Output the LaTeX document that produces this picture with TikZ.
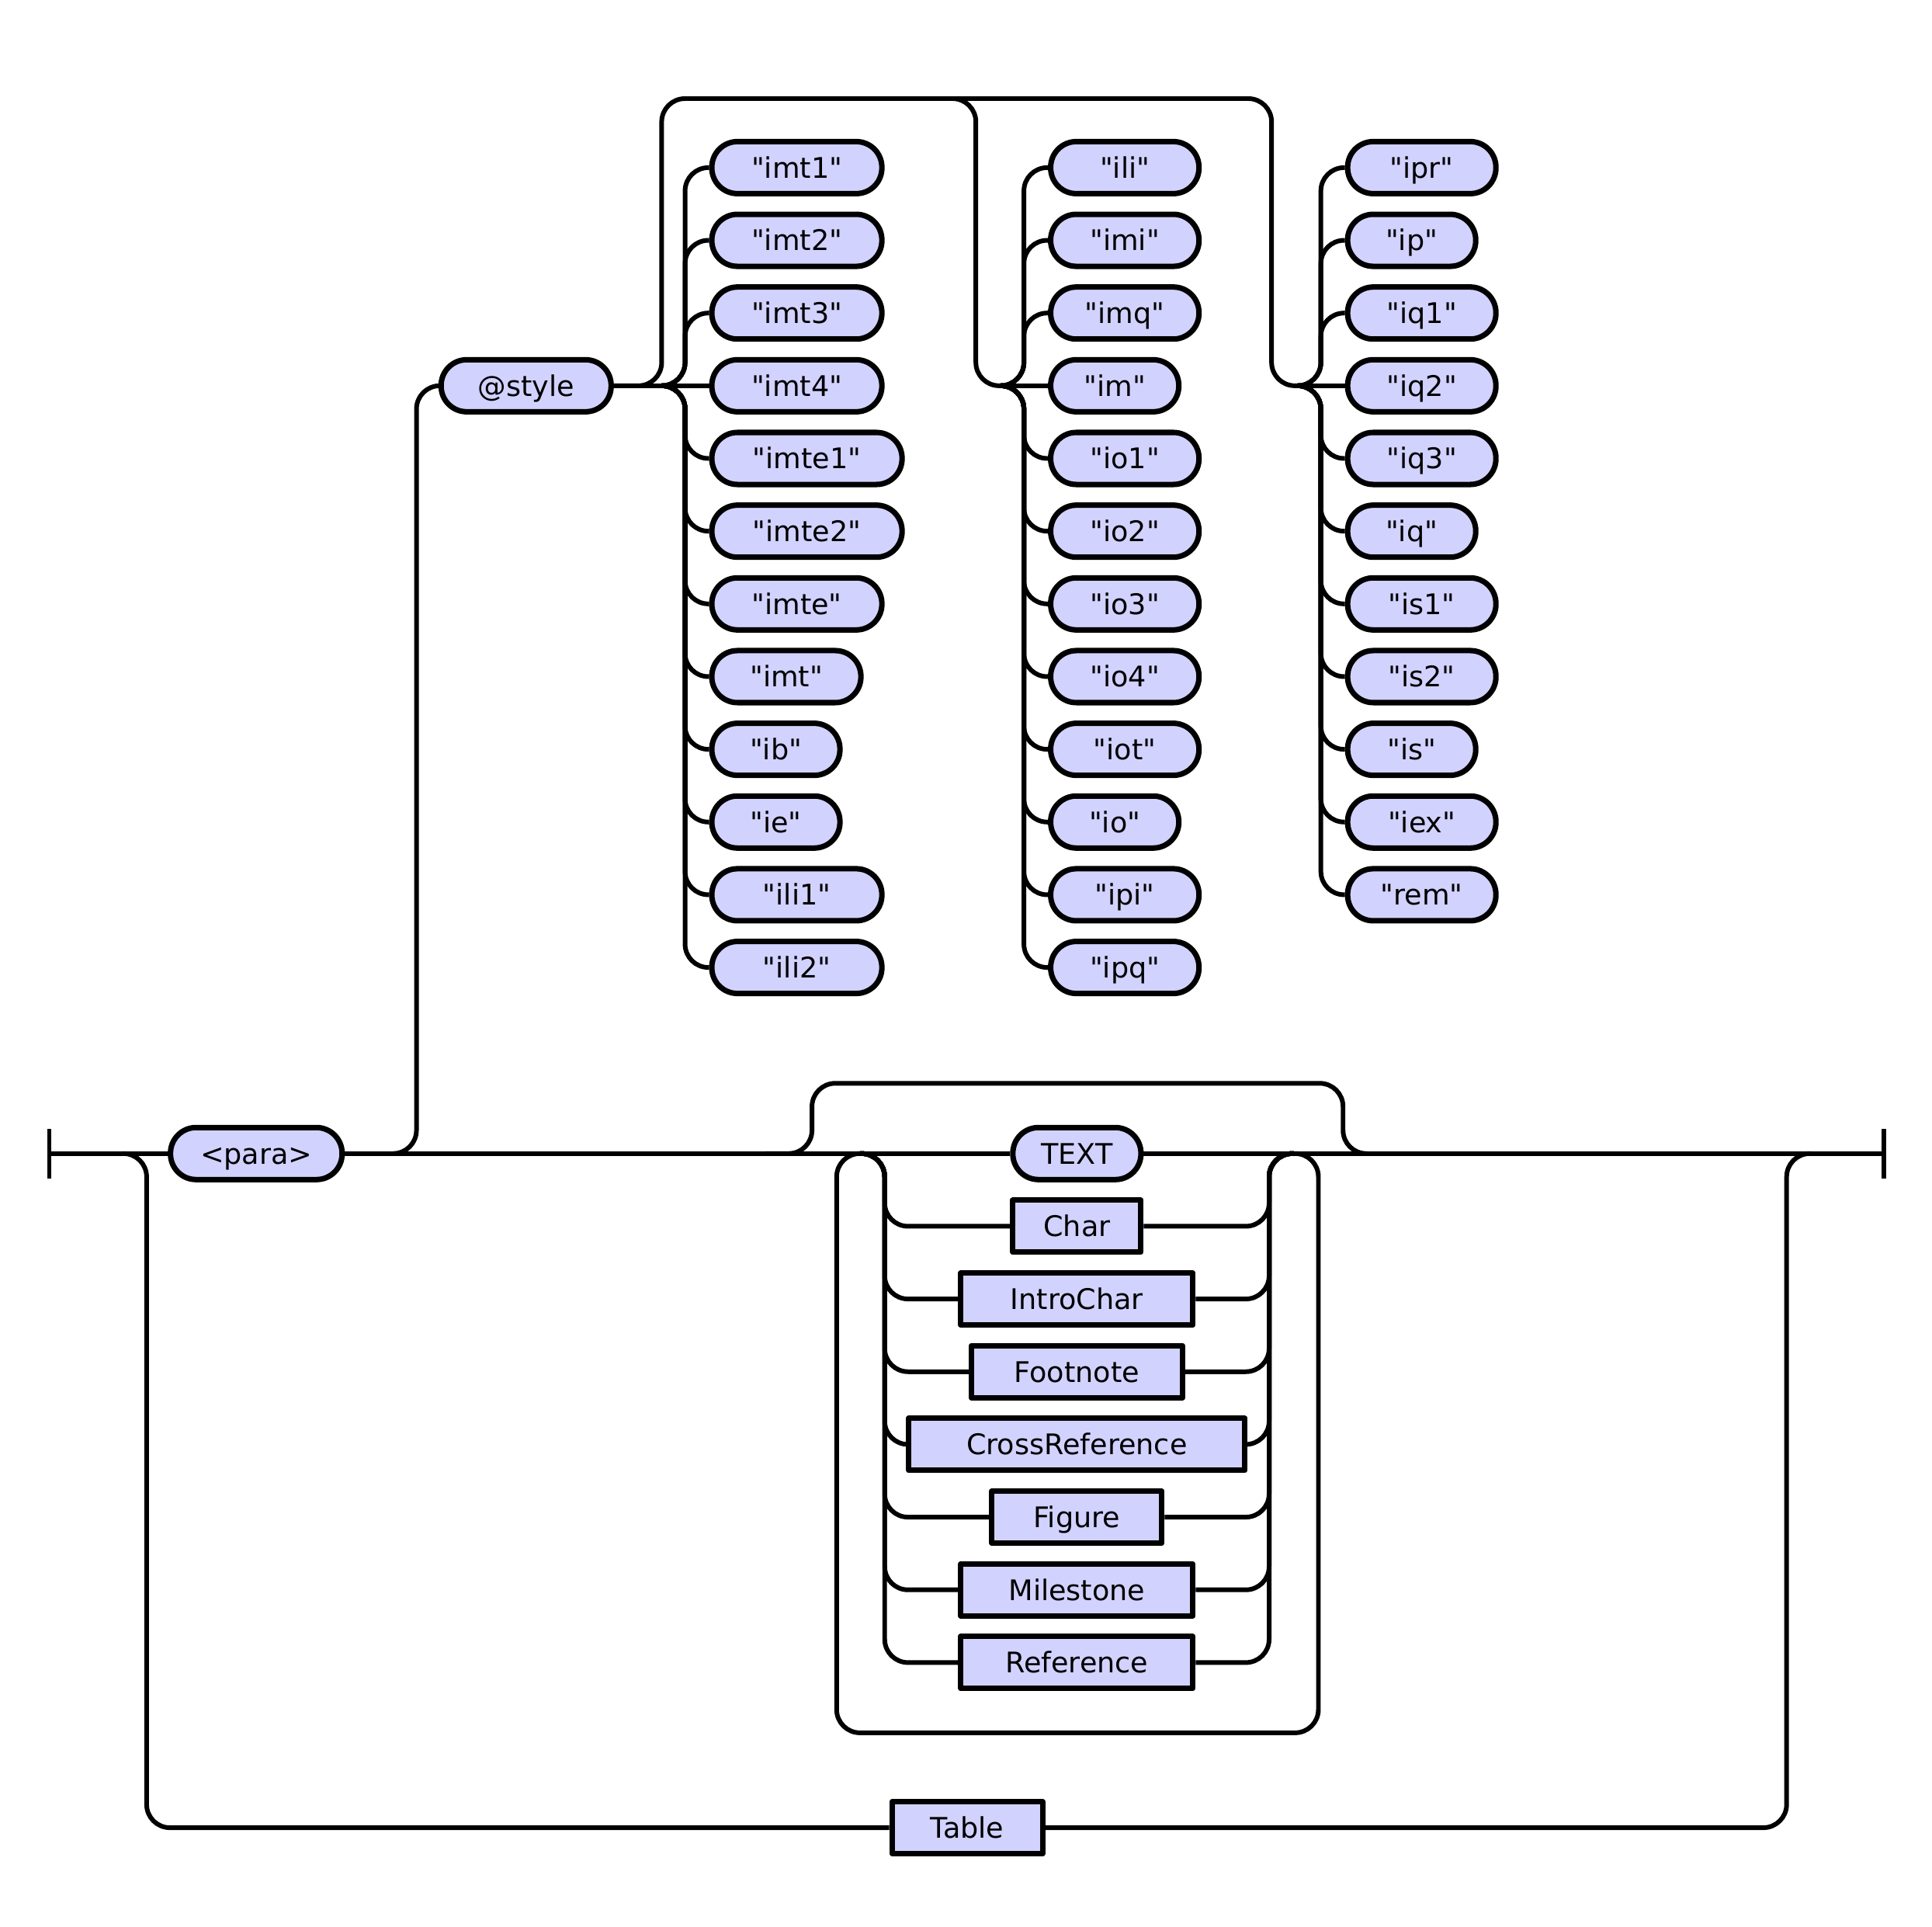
\documentclass[tikz,border=0pt]{standalone}
\usepackage{fontspec}
\setmainfont{DejaVu Sans}[Ligatures=TeXOff]
\definecolor{nodefill}{RGB}{210,210,255}
\begin{document}
\begin{tikzpicture}[x=0.015874cm,y=-0.015874cm,
  line width=1.7pt, line join=round,
  rr/.style={rounded corners=0.3cm},
  lbl/.style={font=\fontsize{10.4}{12}\selectfont, text height=10.1pt, text depth=2.5pt},
  term/.style={lbl, draw, line width=2pt, fill=nodefill, rounded corners=0.33cm, minimum height=0.67cm, inner sep=0pt},
  nonterm/.style={lbl, draw, line width=2pt, fill=nodefill, minimum height=0.67cm, inner sep=0pt}]
\useasboundingbox (0,0) rectangle (1568,1563);

% main line nodes
\node[term, minimum width=2.21cm] (para) at (208,936) {<para>};
\node[term, minimum width=2.19cm] (style) at (427,313) {@style};
\node[term, minimum width=1.65cm] (text) at (874,936) {TEXT};
\node[nonterm, minimum width=1.65cm] (char) at (874,995) {Char};
\node[nonterm, minimum width=2.99cm] (intro) at (874,1054) {IntroChar};
\node[nonterm, minimum width=2.72cm] (foot) at (874,1113) {Footnote};
\node[nonterm, minimum width=4.33cm] (cross) at (874,1172) {CrossReference};
\node[nonterm, minimum width=2.19cm] (fig) at (874,1231) {Figure};
\node[nonterm, minimum width=2.99cm] (mile) at (874,1290) {Milestone};
\node[nonterm, minimum width=2.99cm] (ref) at (874,1349) {Reference};
\node[nonterm, minimum width=1.94cm] (table) at (785,1483) {Table};

% column 1
\foreach \nm/\lab/\yy/\ww in {c1a/imt1/136/2.19cm, c1b/imt2/195/2.19cm, c1c/imt3/254/2.19cm,
  c1d/imt4/313/2.19cm, c1e/imte1/372/2.45cm, c1f/imte2/431/2.45cm, c1g/imte/490/2.19cm,
  c1h/imt/549/1.92cm, c1i/ib/608/1.65cm, c1j/ie/667/1.65cm, c1k/ili1/726/2.19cm, c1l/ili2/785/2.19cm}
  {\node[term, minimum width=\ww, anchor=west] (\nm) at (575.5,\yy) {"\lab"};}
% column 2
\foreach \nm/\lab/\yy/\ww in {c2a/ili/136/1.91cm, c2b/imi/195/1.91cm, c2c/imq/254/1.91cm,
  c2d/im/313/1.65cm, c2e/io1/372/1.91cm, c2f/io2/431/1.91cm, c2g/io3/490/1.91cm,
  c2h/io4/549/1.91cm, c2i/iot/608/1.91cm, c2j/io/667/1.65cm, c2k/ipi/726/1.91cm, c2l/ipq/785/1.91cm}
  {\node[term, minimum width=\ww, anchor=west] (\nm) at (850.5,\yy) {"\lab"};}
% column 3
\foreach \nm/\lab/\yy/\ww in {c3a/ipr/136/1.91cm, c3b/ip/195/1.65cm, c3c/iq1/254/1.91cm,
  c3d/iq2/313/1.91cm, c3e/iq3/372/1.91cm, c3f/iq/431/1.65cm, c3g/is1/490/1.91cm,
  c3h/is2/549/1.91cm, c3i/is/608/1.65cm, c3j/iex/667/1.91cm, c3k/rem/726/1.91cm}
  {\node[term, minimum width=\ww, anchor=west] (\nm) at (1091.5,\yy) {"\lab"};}

% junction coordinates
\coordinate (LB) at (40,936);
\coordinate (RB) at (1529,936);
\coordinate (TJ) at (100,936);
\coordinate (TR) at (1470,936);
\coordinate (PJ) at (319,936);
\coordinate (J1) at (537,313);
\coordinate (V1) at (556,313);
\coordinate (J2) at (812,313);
\coordinate (V2) at (831,313);
\coordinate (J3) at (1053,313);
\coordinate (V3) at (1072,313);
\coordinate (R2) at (760,80);
\coordinate (BL) at (621,936);
\coordinate (BR) at (1110,936);
\coordinate (LJ1) at (698,936);
\coordinate (LJ2) at (1050,936);

% start / end bars
\draw (40,916) -- (40,956);
\draw (1529,916) -- (1529,956);

% main line
\draw (LB) -- (para.west);
\draw (para.east) -- (text.west);
\draw (text.east) -- (RB);

% Table bypass
\draw[rr] (TJ) -- (119,936) -- (119,1483) -- (table.west);
\draw[rr] (table.east) -- (1450,1483) -- (1450,936) -- (TR);

% @style branch
\draw[rr] (PJ) -- (338,936) -- (338,313) -- (style.west);
\draw (style.east) -- (c1d.west);
\draw[rr] (style.east) -- (537,313) -- (537,80) -- (1032,80) -- (1032,313) -- (J3);
\draw[rr] (R2) -- (792,80) -- (792,313) -- (J2);
\draw (J2) -- (c2d.west);
\draw (J3) -- (c3d.west);

\foreach \nm in {c1a,c1b,c1c,c1e,c1f,c1g,c1h,c1i,c1j,c1k,c1l}
  {\draw[rr] (J1) -- (V1) |- (\nm.west);}
\foreach \nm in {c2a,c2b,c2c,c2e,c2f,c2g,c2h,c2i,c2j,c2k,c2l}
  {\draw[rr] (J2) -- (V2) |- (\nm.west);}
\foreach \nm in {c3a,c3b,c3c,c3e,c3f,c3g,c3h,c3i,c3j,c3k}
  {\draw[rr] (J3) -- (V3) |- (\nm.west);}

% TEXT group: bypass, loop, choices
\draw[rr] (BL) -- (659,936) -- (659,879) -- (1090,879) -- (1090,936) -- (BR);
\draw[rr] (LJ2) -- (1070,936) -- (1070,1406) -- (679,1406) -- (679,936) -- (LJ1);
\foreach \nm in {char,intro,foot,cross,fig,mile,ref}
  {\draw[rr] (LJ1) -- (718,936) |- (\nm.west);
   \draw[rr] (\nm.east) -| (1030,936) -- (LJ2);}
\end{tikzpicture}
\end{document}
